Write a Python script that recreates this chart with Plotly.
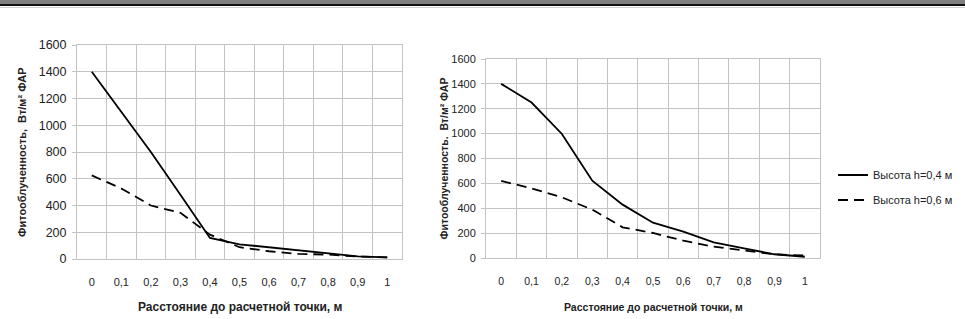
import plotly.graph_objects as go

W, H = 965, 319

x_vals = [0, 0.1, 0.2, 0.3, 0.4, 0.5, 0.6, 0.7, 0.8, 0.9, 1.0]
x_labels = ["0", "0,1", "0,2", "0,3", "0,4", "0,5", "0,6", "0,7", "0,8", "0,9", "1"]

left_h04 = [1400, 1100, 800, 480, 157, 110, 88, 63, 43, 20, 12]
left_h06 = [625, 527, 400, 345, 182, 88, 58, 38, 33, 18, 12]
right_h04 = [1400, 1250, 997, 622, 429, 284, 212, 126, 78, 30, 10]
right_h06 = [620, 560, 488, 389, 247, 201, 139, 91, 60, 30, 20]

y_ticks = [0, 200, 400, 600, 800, 1000, 1200, 1400, 1600]

name_04 = "Высота h=0,4 м"
name_06 = "Высота h=0,6 м"
y_title_left = "Фитооблученность,  Вт/м² ФАР"
y_title_right = "Фитооблученность.  Вт/м² ФАР"
x_title = "Расстояние до расчетной точки, м"

GRID = "#c3c3c3"
NARROW = "Liberation Sans Narrow, Arial Narrow, Liberation Sans, sans-serif"
SANS = "Liberation Sans, Arial, sans-serif"

def px_x(p):
    return p / W

def px_y(p):
    return 1 - p / H

fig = go.Figure()

solid = dict(color="black", width=1.8)
dashed = dict(color="black", width=1.8, dash="10px,6px")

fig.add_trace(go.Scatter(x=x_vals, y=left_h04, mode="lines", line=solid,
                         xaxis="x", yaxis="y", showlegend=False, name=name_04))
fig.add_trace(go.Scatter(x=x_vals, y=left_h06, mode="lines", line=dashed,
                         xaxis="x", yaxis="y", showlegend=False, name=name_06))
fig.add_trace(go.Scatter(x=x_vals, y=right_h04, mode="lines", line=solid,
                         xaxis="x2", yaxis="y2", name=name_04, legend="legend"))
fig.add_trace(go.Scatter(x=x_vals, y=right_h06, mode="lines", line=dashed,
                         xaxis="x2", yaxis="y2", name=name_06, legend="legend2"))

def xaxis(domain, anchor, fsize):
    return dict(
        domain=domain, anchor=anchor, range=[-0.05, 1.05],
        tickmode="array", tickvals=x_vals, ticktext=x_labels,
        showgrid=False, ticks="", zeroline=False,
        showline=True, linecolor=GRID, linewidth=1, mirror=True,
        minor=dict(tickmode="array", tickvals=[0.05 + 0.1 * i for i in range(10)],
                   showgrid=True, gridcolor=GRID, gridwidth=1, ticks=""),
        tickfont=dict(family=NARROW, size=fsize, color="#222"),
        ticklabelstandoff=13, automargin=False, fixedrange=True,
    )

def yaxis(domain, anchor, fsize):
    return dict(
        domain=domain, anchor=anchor, range=[0, 1600],
        tickmode="array", tickvals=y_ticks,
        showgrid=True, gridcolor=GRID, gridwidth=1, zeroline=False,
        showline=True, linecolor=GRID, linewidth=1, mirror=True,
        ticks="outside", ticklen=4, tickcolor=GRID,
        tickfont=dict(family=SANS, size=fsize, color="#222"),
        ticklabelstandoff=3, automargin=False, fixedrange=True,
    )

L_left, L_right, L_top, L_bot = 77, 402, 45, 259
R_left, R_right, R_top, R_bot = 486, 820, 59, 258

layout = dict(
    width=W, height=H,
    margin=dict(l=0, r=0, t=0, b=0),
    paper_bgcolor="white", plot_bgcolor="white",
    xaxis=xaxis([px_x(L_left), px_x(L_right)], "y", 11),
    yaxis=yaxis([px_y(L_bot), px_y(L_top)], "x", 12.5),
    xaxis2=xaxis([px_x(R_left), px_x(R_right)], "y2", 10.5),
    yaxis2=yaxis([px_y(R_bot), px_y(R_top)], "x2", 11),
    legend=dict(x=px_x(833), y=px_y(175), xanchor="left", yanchor="middle",
                bgcolor="rgba(0,0,0,0)", borderwidth=0, itemwidth=30,
                font=dict(family=NARROW, size=11, color="#222")),
    legend2=dict(x=px_x(833), y=px_y(200), xanchor="left", yanchor="middle",
                 bgcolor="rgba(0,0,0,0)", borderwidth=0, itemwidth=30,
                 font=dict(family=NARROW, size=11, color="#222")),
    annotations=[
        dict(text="<b>" + y_title_left + "</b>", xref="paper", yref="paper",
             x=px_x(22), y=px_y((L_top + L_bot) / 2), textangle=-90, showarrow=False,
             xanchor="center", yanchor="middle",
             font=dict(family=SANS, size=11, color="#222")),
        dict(text="<b>" + y_title_right + "</b>", xref="paper", yref="paper",
             x=px_x(443), y=px_y((R_top + R_bot) / 2), textangle=-90, showarrow=False,
             xanchor="center", yanchor="middle",
             font=dict(family=SANS, size=10.5, color="#222")),
        dict(text="<b>" + x_title + "</b>", xref="paper", yref="paper",
             x=px_x((L_left + L_right) / 2), y=px_y(307), showarrow=False,
             xanchor="center", yanchor="middle",
             font=dict(family=NARROW, size=12, color="#222")),
        dict(text="<b>" + x_title + "</b>", xref="paper", yref="paper",
             x=px_x((R_left + R_right) / 2), y=px_y(307), showarrow=False,
             xanchor="center", yanchor="middle",
             font=dict(family=NARROW, size=10.5, color="#222")),
    ],
    shapes=[
        dict(type="rect", xref="paper", yref="paper", x0=0, x1=1,
             y0=px_y(4), y1=1, fillcolor="#808080", line=dict(width=0), layer="above"),
        dict(type="rect", xref="paper", yref="paper", x0=0, x1=1,
             y0=px_y(6), y1=px_y(4), fillcolor="#111111", line=dict(width=0), layer="above"),
        dict(type="rect", xref="paper", yref="paper", x0=0, x1=1,
             y0=px_y(8), y1=px_y(7), fillcolor="#d0d0d0", line=dict(width=0), layer="above"),
    ],
)
fig.update_layout(**layout)

fig.write_html("out.html",
               config={"displayModeBar": False, "staticPlot": True},
               post_script="document.body.style.margin='0px';document.body.style.overflow='hidden';")
